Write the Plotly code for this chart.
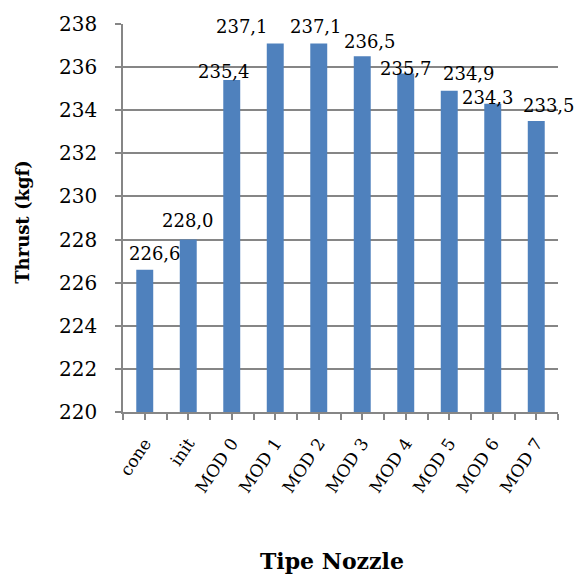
import plotly.graph_objects as go

categories = ["cone", "init", "MOD 0", "MOD 1", "MOD 2", "MOD 3", "MOD 4", "MOD 5", "MOD 6", "MOD 7"]
thrust = [226.6, 228.0, 235.4, 237.1, 237.1, 236.5, 235.7, 234.9, 234.3, 233.5]
y_ticks = [220, 222, 224, 226, 228, 230, 232, 234, 236, 238]

# label offsets (pixels) used to mimic the original label placement
label_dx = [10, 0, -8, -33, -3, 8, 0, 20, -5, 13]
label_dy = [16, 19, 9, 17, 17, 15, 5, 17, 6, 16]

BAR = "#4F81BD"
GRID = "#868686"
FONT = "DejaVu Serif"

xpos = list(range(len(categories)))

fig = go.Figure()
fig.add_trace(go.Bar(x=xpos, y=thrust, marker=dict(color=BAR, line=dict(width=0)),
                     hoverinfo="skip"))

for i, v in enumerate(thrust):
    fig.add_annotation(x=xpos[i], y=v, xref="x", yref="y",
                       text=f"{v:.1f}".replace(".", ","), showarrow=False,
                       xanchor="center", yanchor="middle",
                       xshift=label_dx[i], yshift=label_dy[i],
                       font=dict(family=FONT, size=18, color="black"))

fig.add_annotation(x=-0.23, y=0.49, xref="paper", yref="paper", text="<b>Thrust (kgf)</b>",
                   textangle=-90, showarrow=False, xanchor="center", yanchor="middle",
                   font=dict(family=FONT, size=18, color="black"))
fig.add_annotation(x=0.48, y=-0.383, xref="paper", yref="paper", text="<b>Tipe Nozzle</b>",
                   showarrow=False, xanchor="center", yanchor="middle",
                   font=dict(family=FONT, size=22, color="black"))

fig.update_layout(
    width=577, height=577,
    margin=dict(l=123, r=19, t=18, b=165),
    paper_bgcolor="white", plot_bgcolor="white",
    bargap=0.61, showlegend=False,
)
fig.update_xaxes(
    range=[-0.5, len(categories) - 0.5],
    tickmode="array", tickvals=xpos, ticktext=categories,
    tickangle=-56, tickfont=dict(family=FONT, size=17, color="black"),
    ticks="outside", ticklen=6, tickcolor=GRID, tickwidth=1.5,
    minor=dict(tickmode="array", tickvals=[i - 0.5 for i in range(len(categories) + 1)],
               ticks="outside", ticklen=6, tickcolor=GRID, tickwidth=1.5, showgrid=False),
    showline=True, linecolor=GRID, linewidth=1.5,
    showgrid=False, zeroline=False, ticklabelstandoff=7,
)
fig.update_yaxes(
    range=[220, 238], tickmode="array", tickvals=y_ticks,
    ticktext=[str(t) for t in y_ticks],
    tickfont=dict(family=FONT, size=20, color="black"),
    ticks="outside", ticklen=6, tickcolor=GRID, tickwidth=1.5,
    showline=True, linecolor=GRID, linewidth=1.5,
    showgrid=True, gridcolor=GRID, gridwidth=1.5, zeroline=False,
    ticklabelstandoff=14,
)

fig.write_html("out.html")
